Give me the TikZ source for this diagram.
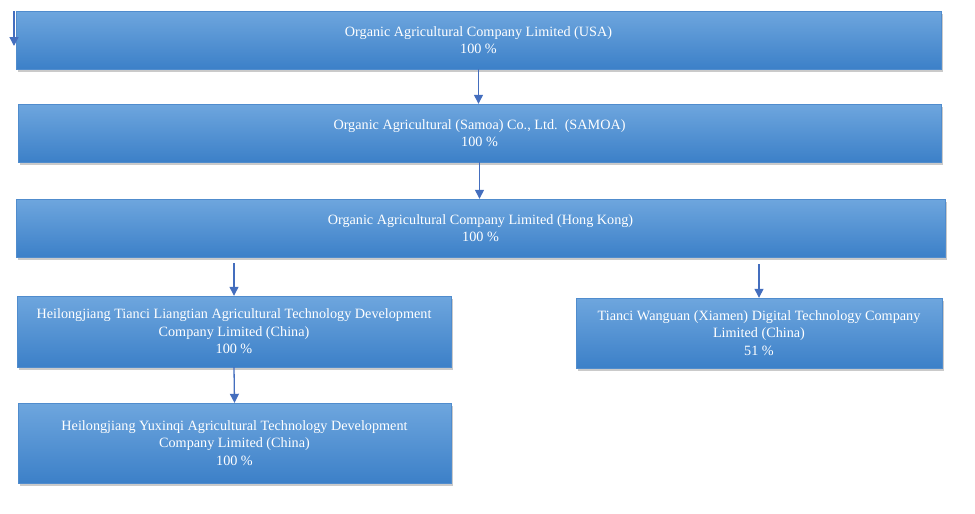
\documentclass[tikz,border=0pt]{standalone}
\usepackage{fontspec}
\setmainfont{Liberation Serif}
\usetikzlibrary{arrows.meta,shadows,calc}
\definecolor{boxtop}{RGB}{110,166,222}
\definecolor{boxbot}{RGB}{60,128,200}
\definecolor{boxedge}{RGB}{80,140,205}
\definecolor{arrcol}{RGB}{68,110,190}
\tikzset{
  cbox/.style={rectangle, minimum width=#1, inner sep=0pt, align=center,
    top color=boxtop, bottom color=boxbot, draw=boxedge, line width=0.4pt,
    text=white, font=\fontsize{14.2}{17.5}\selectfont,
    drop shadow={opacity=0.35, shadow xshift=2pt, shadow yshift=-3pt, fill=black!60}},
  arr/.style={draw=arrcol, line width=1.3pt, -{Triangle[length=9pt,width=9pt]}, arrcol}
}
\begin{document}
\begin{tikzpicture}[x=1pt,y=-1pt]
\useasboundingbox (0,0) rectangle (975,514);
\node[cbox=925pt, minimum height=58pt] (b1) at (478.5,40)
  {Organic Agricultural Company Limited (USA)\\100 \%};
\node[cbox=923pt, minimum height=58pt] (b2) at (479.5,133)
  {Organic Agricultural (Samoa) Co., Ltd.~~(SAMOA)\\100 \%};
\node[cbox=929pt, minimum height=58pt] (b3) at (480.5,228)
  {Organic Agricultural Company Limited (Hong Kong)\\100 \%};
\node[cbox=434pt, minimum height=71pt] (b4) at (234,331.5)
  {Heilongjiang Tianci Liangtian Agricultural Technology Development\\Company Limited (China)\\100 \%};
\node[cbox=366pt, minimum height=70pt] (b5) at (759,333)
  {Tianci Wanguan (Xiamen) Digital Technology Company\\Limited (China)\\51 \%};
\node[cbox=433pt, minimum height=80pt] (b6) at (234.5,443)
  {Heilongjiang Yuxinqi Agricultural Technology Development\\Company Limited (China)\\100 \%};
\coordinate (s1) at (14,11);
\coordinate (s2) at (14,46);
\draw[arr] (s1) -- (s2);
\draw[arr] (b1.south) -- (b2.north -| b1.south);
\draw[arr] (b2.south) -- (b3.north -| b2.south);
\draw[arr, shorten <=6pt] (b3.south -| b4.north) -- (b4.north);
\draw[arr, shorten <=7pt] (b3.south -| b5.north) -- (b5.north);
\draw[arr] (b4.south) -- (b6.north);
\end{tikzpicture}
\end{document}
